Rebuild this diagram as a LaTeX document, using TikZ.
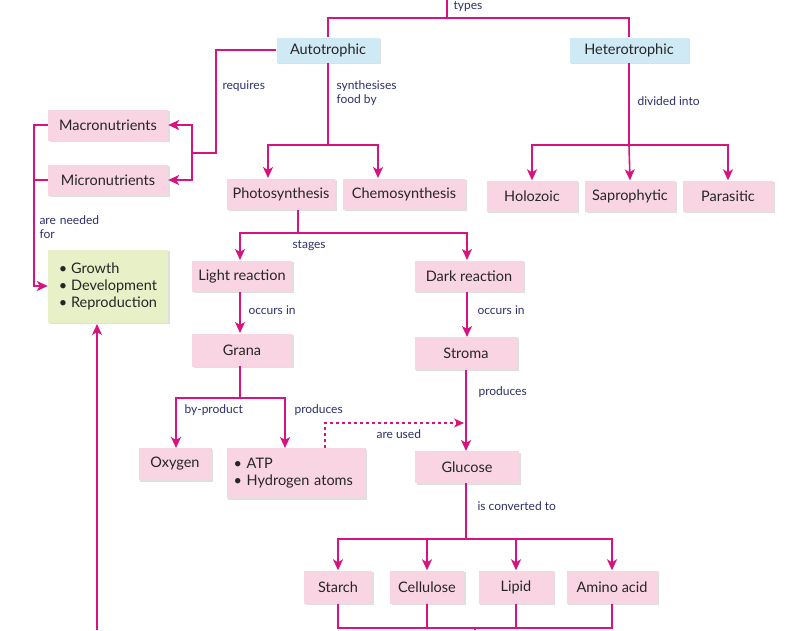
\documentclass[tikz,border=0pt]{standalone}
\usepackage{fontspec}
\setmainfont{Lato}
\usetikzlibrary{arrows.meta,shadows}
\definecolor{mag}{HTML}{D6137F}
\definecolor{pk}{HTML}{F9D4E2}
\definecolor{bl}{HTML}{CFE9F5}
\definecolor{gr}{HTML}{E8F0C8}
\definecolor{nv}{HTML}{2B2F6B}
\tikzset{
 box/.style={fill=pk,minimum height=31pt,font=\fontsize{14.5}{17}\selectfont,text=black!85,inner sep=0pt,drop shadow={shadow xshift=1.5pt,shadow yshift=-1.5pt,fill=black!25,opacity=.5}},
 bbox/.style={box,fill=bl,minimum height=25pt},
 lab/.style={font=\fontsize{12}{15}\selectfont,text=nv,anchor=west,align=left},
 ln/.style={draw=mag,line width=1.6pt},
 ar/.style={ln,-{Stealth[length=11pt,width=10pt,inset=3pt]}},
}
\begin{document}
\begin{tikzpicture}[x=1pt,y=-1pt]
\useasboundingbox (0,0) rectangle (798,630);
% nodes
\node[bbox,minimum width=103pt] (auto) at (328,50) {Autotrophic};
\node[bbox,minimum width=119pt] (het) at (629,50) {Heterotrophic};
\node[box,minimum width=120pt] (mac) at (108,125) {Macronutrients};
\node[box,minimum width=120pt] (mic) at (108,180) {Micronutrients};
\node[box,fill=gr,minimum width=120pt,minimum height=73pt,align=left] (grow) at (108,286) {• Growth\\• Development\\• Reproduction};
\node[box,minimum width=108pt] (ph) at (281,194) {Photosynthesis};
\node[box,minimum width=122pt] (ch) at (404,194) {Chemosynthesis};
\node[box,minimum width=91pt] (hol) at (532,196) {Holozoic};
\node[box,minimum width=90pt] (sap) at (630,196) {Saprophytic};
\node[box,minimum width=90pt] (par) at (728,196) {Parasitic};
\node[box,minimum width=100pt] (lr) at (242,276) {Light reaction};
\node[box,minimum width=109pt] (dr) at (469,276) {Dark reaction};
\node[box,minimum width=100pt,minimum height=33pt] (gra) at (242,350) {Grana};
\node[box,minimum width=103pt,minimum height=33pt] (str) at (466,353) {Stroma};
\node[box,minimum width=73pt,minimum height=32pt] (oxy) at (175,464) {Oxygen};
\node[box,minimum width=139pt,minimum height=50pt,align=left,text width=125pt] (atp) at (296,473) {• ATP\\• Hydrogen atoms};
\node[box,minimum width=104pt,minimum height=32pt] (glu) at (467,467) {Glucose};
\node[box,minimum width=68pt,minimum height=33pt] (sta) at (338,587) {Starch};
\node[box,minimum width=74pt,minimum height=33pt] (cel) at (427,587) {Cellulose};
\node[box,minimum width=75pt,minimum height=33pt] (lip) at (516,587) {Lipid};
\node[box,minimum width=91pt,minimum height=33pt] (ami) at (612,587) {Amino acid};
% coordinates
\coordinate (top) at (447,0);
\coordinate (bot) at (475,630);
% top
\draw[ln] (top) -- (447,18);
\draw[ln] (auto.north) |- (447,18) -| (het.north);
\node[lab] (l0) at (450,6) {types};
% requires
\draw[ln] (auto.west) -| (216,153) -- (192,153);
\draw[ar] (192,153) |- (mac.east);
\draw[ar] (192,153) |- (mic.east);
\node[lab] (l1) at (219,86) {requires};
% needed for
\draw[ln] (mac.west) -| (34,180) -- (mic.west);
\draw[ar] (34,180) |- (grow.west);
\node[lab,text width=70pt] (l2) at (36,227) {are needed\\[-1pt]for};
\draw[ar] (97,630) -- (97,324);
% autotrophic
\draw[ln] (auto.south) -- (328,145);
\draw[ar] (328,145) -| (268,178);
\draw[ar] (328,145) -| (378,178);
\node[lab] (l3) at (333,93.5) {synthesises\\[-1pt]food by};
% heterotrophic
\draw[ln] (het.south) -- (629,145);
\draw[ar] (629,145) -| (hol.north);
\draw[ar] (629,145) -- (sap.north);
\draw[ar] (629,145) -| (par.north);
\node[lab] (l4) at (634,101) {divided into};
% photosynthesis
\draw[ln] (298,210) -- (298,233);
\draw[ar] (298,233) -| (240,260);
\draw[ar] (298,233) -| (467,260);
\node[lab] (l5) at (289,246) {stages};
\draw[ar] (240,292) -- (240,333);
\draw[ar] (467,292) -- (467,337);
\node[lab] (l6) at (245,310) {occurs in};
\node[lab] (l7) at (474,310) {occurs in};
% grana
\draw[ln] (240,366) -- (240,398);
\draw[ar] (240,398) -| (176,448);
\draw[ar] (240,398) -| (285,448);
\node[lab] (l8) at (181,410) {by-product};
\node[lab] (l9) at (291,410) {produces};
\draw[mag,line width=1.2pt,dashed,-{Stealth[length=10pt,width=9pt,inset=3pt]}] (325,448) |- (464,423);
\node[lab] (l10) at (373,434) {are used};
% stroma
\draw[ar] (466,370) -- (466,451);
\node[lab] (l11) at (475,392) {produces};
% glucose
\draw[ln] (466,483) -- (466,539);
\draw[ar] (466,539) -| (sta.north);
\draw[ar] (466,539) -| (cel.north);
\draw[ar] (466,539) -| (lip.north);
\draw[ar] (466,539) -| (ami.north);
\node[lab] (l12) at (474,506) {is converted to};
\draw[ln] (sta.south) |- (612,628) -- (ami.south);
\draw[ln] (cel.south) -- (427,628);
\draw[ln] (lip.south) -- (516,628);
\draw[ln] (bot) -- (475,628);
\end{tikzpicture}
\end{document}
